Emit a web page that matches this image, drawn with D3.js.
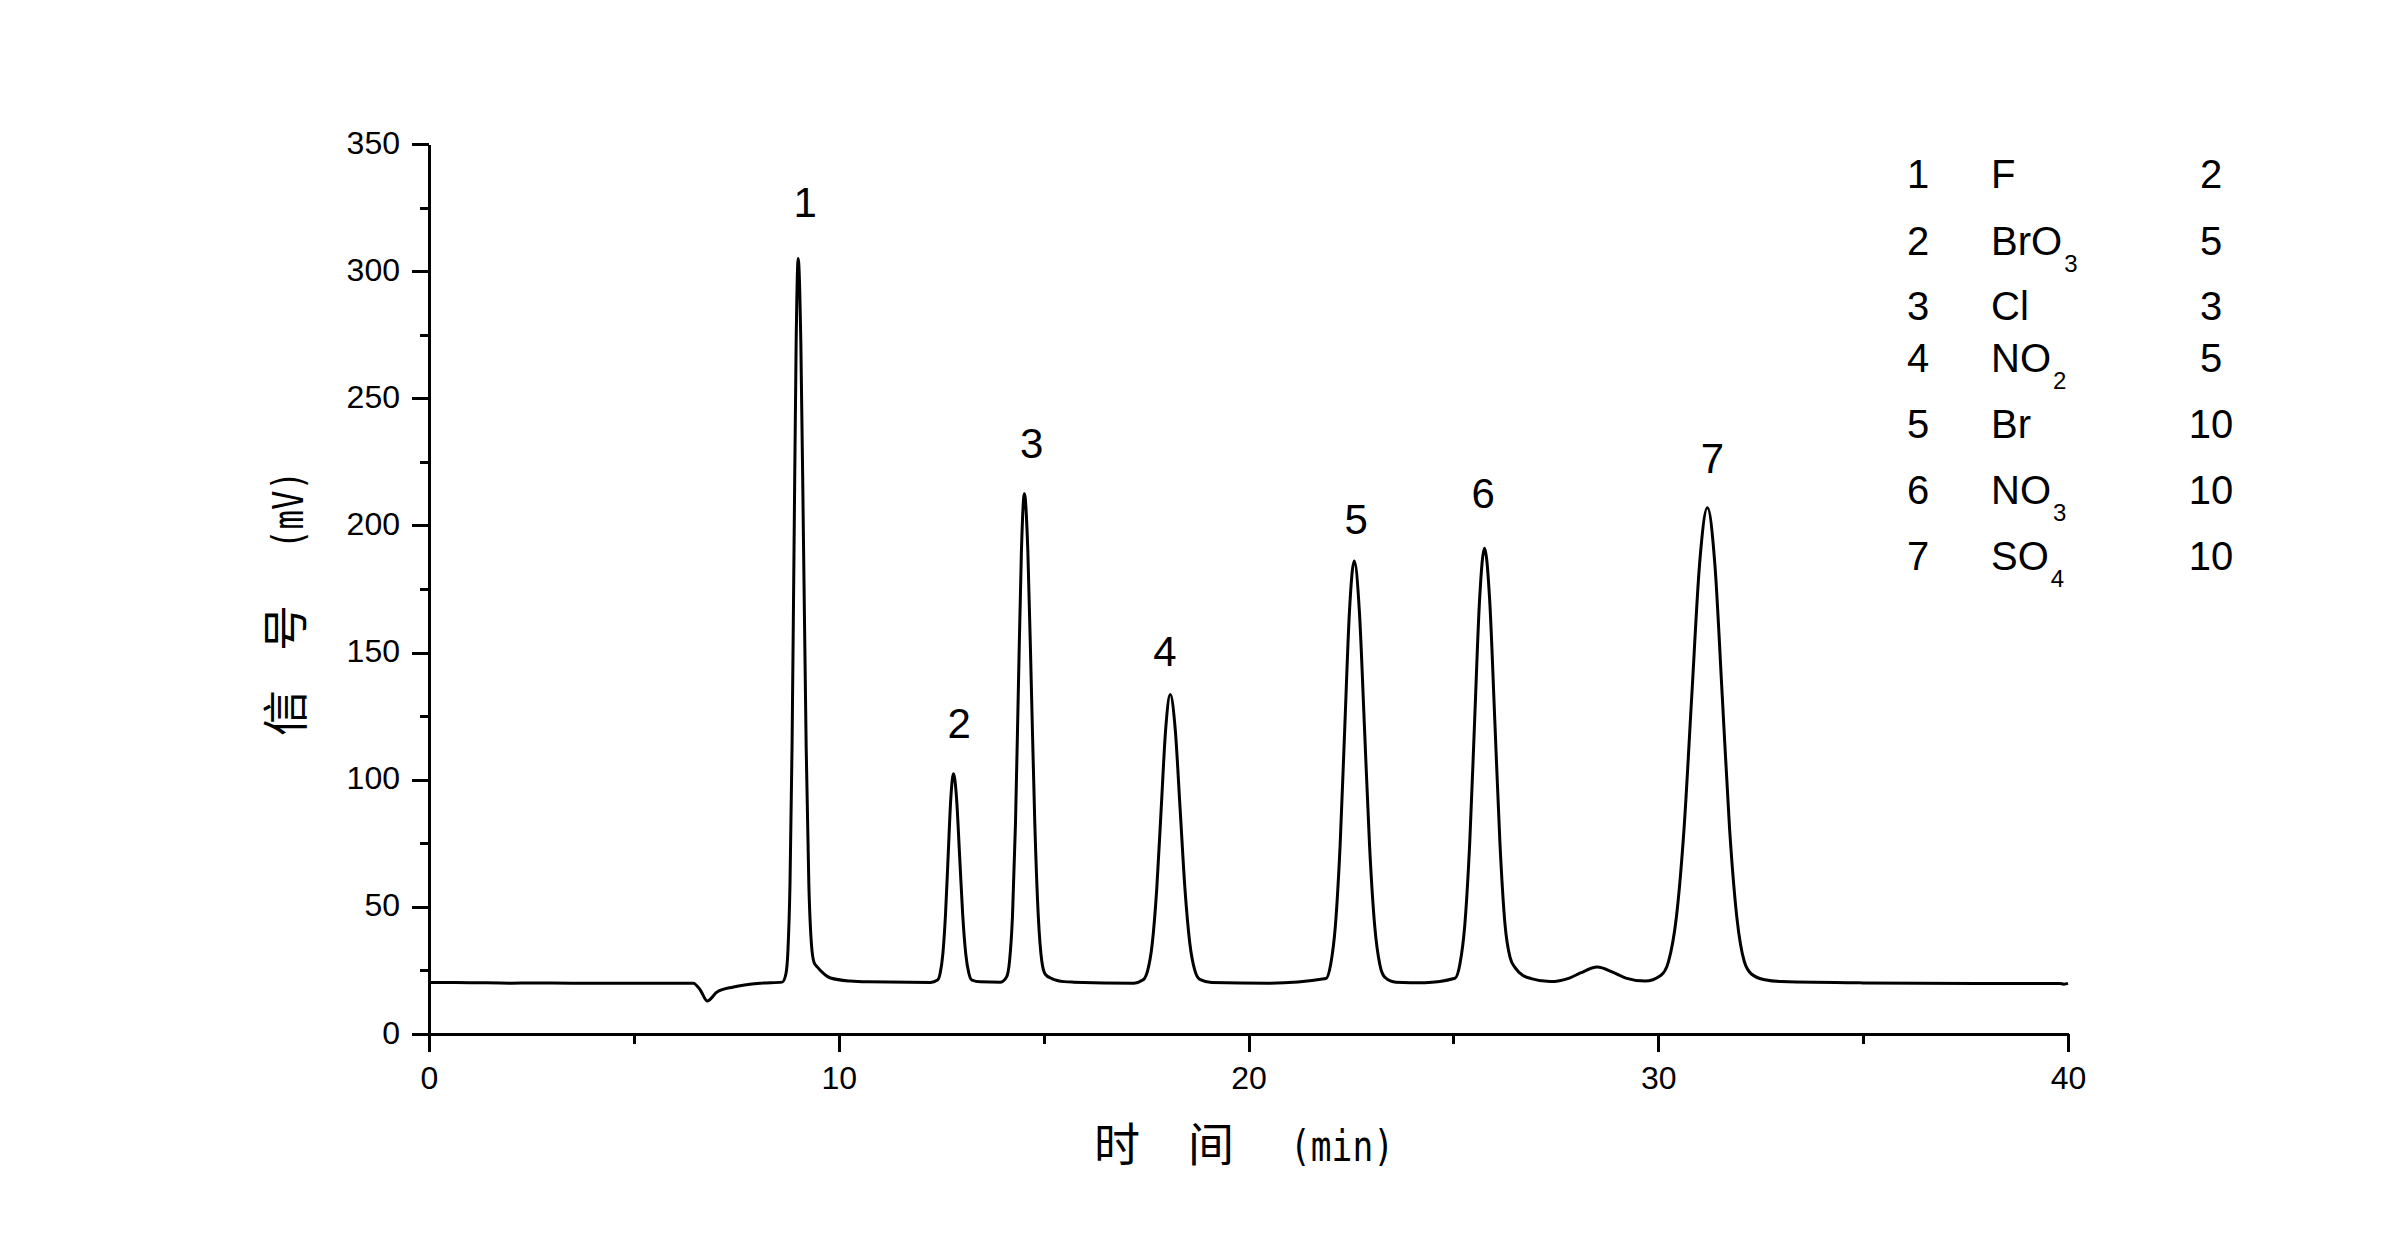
<!DOCTYPE html>
<html><head><meta charset="utf-8">
<script src="https://cdn.jsdelivr.net/npm/d3@7"></script>
<style>html,body{margin:0;padding:0;background:#fff}svg{display:block}</style>
</head><body>
<script>
// ---------- data ----------
const timeMin = [0,1.0,2.0,2.5,3.5,5.0,6.45,6.62,6.79,7.03,7.43,8.08,8.62,
  8.71,8.76,8.81,8.86,8.91,8.96,9.01,9.075,9.14,9.205,9.27,9.335,9.40,9.48,9.60,9.80,10.28,10.70,
  12.24,12.41,12.475,12.54,12.605,12.67,12.735,12.80,12.875,12.95,13.025,13.10,13.175,13.25,13.45,13.95,
  14.095,14.168,14.24,14.313,14.385,14.458,14.53,14.615,14.70,14.785,14.87,14.955,15.04,15.20,15.50,15.73,
  17.20,17.43,17.54,17.65,17.76,17.87,17.98,18.09,18.21,18.33,18.45,18.57,18.69,18.81,19.10,20.50,
  21.89,22.005,22.12,22.235,22.35,22.465,22.58,22.705,22.83,22.955,23.08,23.205,23.33,23.60,24.30,
  25.04,25.16,25.28,25.40,25.52,25.64,25.76,25.885,26.01,26.135,26.26,26.385,26.51,26.70,26.90,27.36,
  27.83,28.10,28.51,28.90,29.21,29.68,
  30.06,30.25,30.44,30.63,30.82,31.01,31.20,31.38,31.56,31.74,31.92,32.10,32.28,32.60,33.00,35.00,38.00,39.80,39.90,40.00];
const signalMv = [20.3,20.2,20.0,20.1,20.0,20.0,20.0,17.3,13.0,16.5,18.5,20.0,20.4,
  23.6,32.9,58.9,112.8,193.0,271.6,305.0,271.6,193.0,112.8,58.9,35.0,28.0,26.3,24.2,22.0,20.8,20.5,
  20.3,21.2,23.9,31.4,46.9,70.0,92.7,102.3,92.7,70.0,46.9,31.4,23.9,21.2,20.5,20.4,
  22.4,28.7,46.3,82.7,136.9,189.9,212.5,189.9,136.9,82.7,46.3,28.7,23.5,21.8,20.6,20.4,
  20.0,21.3,25.0,35.4,56.9,88.8,120.2,133.5,120.2,88.8,56.9,35.4,25.0,21.5,20.3,20.0,
  21.8,27.3,42.5,73.9,120.7,166.5,186.0,166.5,120.7,73.9,42.5,27.3,22.3,20.4,20.2,
  21.9,27.5,43.1,75.5,123.7,170.9,191.0,170.9,123.7,75.5,43.1,30.0,26.0,23.0,21.8,20.6,
  22.0,24.0,26.3,24.2,22.0,20.8,
  23.0,28.5,45.6,80.9,133.5,185.1,207.0,185.1,133.5,80.9,45.6,28.5,23.5,21.3,20.6,20.1,19.9,19.9,19.6,19.9];

const peakNumbers = ["1","2","3","4","5","6","7"];
const peakLabelTime = [9.18,12.94,14.71,17.96,22.63,25.73,31.32];
const peakLabelSignal = [321.3,116.4,226.5,144.7,196.6,206.8,220.6];

const legendIndex = ["1","2","3","4","5","6","7"];
const legendIon = ["F","BrO","Cl","NO","Br","NO","SO"];
const legendIonSub = ["","3","","2","","3","4"];
const legendConc = ["2","5","3","5","10","10","10"];

const xTicks = [0,10,20,30,40];
const xMinorTicks = [5,15,25,35];
const yTicks = [0,50,100,150,200,250,300,350];
const yMinorTicks = [25,75,125,175,225,275,325];

// ---------- layout ----------
const W = 2400, H = 1240;
const latin = "'Liberation Sans', Arial, sans-serif";
const cjk = "'Noto Sans CJK SC', sans-serif";
const mono = "'DejaVu Sans Mono', monospace";

const svg = d3.select("body").append("svg").attr("width", W).attr("height", H);
svg.append("rect").attr("width", W).attr("height", H).attr("fill", "#fff");

const x = d3.scaleLinear().domain([0, 40]).range([429, 2068]);
const y = d3.scaleLinear().domain([0, 350]).range([1034, 144]);

// minor ticks
const gxm = svg.append("g").attr("transform", `translate(0,${y(0)})`)
  .call(d3.axisBottom(x).tickValues(xMinorTicks).tickSize(10).tickFormat(""));
const gym = svg.append("g").attr("transform", `translate(${x(0)},0)`)
  .call(d3.axisLeft(y).tickValues(yMinorTicks).tickSize(9).tickFormat(""));
[gxm, gym].forEach(g => { g.select(".domain").remove(); });

// major axes
const gx = svg.append("g").attr("transform", `translate(0,${y(0)})`)
  .call(d3.axisBottom(x).tickValues(xTicks).tickSize(18).tickSizeOuter(0));
const gy = svg.append("g").attr("transform", `translate(${x(0)},0)`)
  .call(d3.axisLeft(y).tickValues(yTicks).tickSize(17).tickSizeOuter(0));

[gx, gy, gxm, gym].forEach(g => {
  g.selectAll("line").attr("stroke", "#000").attr("stroke-width", 3).attr("shape-rendering", "crispEdges");
  g.selectAll(".domain").attr("stroke", "#000").attr("stroke-width", 3).attr("shape-rendering", "crispEdges");
});
gx.selectAll("text").attr("font-family", latin).attr("font-size", 32).attr("fill", "#000")
  .attr("y", 55).attr("dy", 0);
gy.selectAll("text").attr("font-family", latin).attr("font-size", 32).attr("fill", "#000")
  .attr("x", -29).attr("dy", 9);
// extend x axis to the left under the y 0 tick
svg.append("line").attr("x1", x(0) - 17).attr("x2", x(0)).attr("y1", y(0)).attr("y2", y(0))
  .attr("stroke", "#000").attr("stroke-width", 3).attr("shape-rendering", "crispEdges");

// chromatogram
const pts = timeMin.map((t, i) => [t, signalMv[i]]);
const line = d3.line().x(d => x(d[0])).y(d => y(d[1])).curve(d3.curveMonotoneX);
svg.append("path").datum(pts).attr("d", line).attr("fill", "none")
  .attr("stroke", "#000").attr("stroke-width", 3).attr("stroke-linejoin", "round");

// peak numbers
svg.append("g").selectAll("text").data(peakNumbers).join("text")
  .attr("x", (d, i) => x(peakLabelTime[i])).attr("y", (d, i) => y(peakLabelSignal[i]))
  .attr("text-anchor", "middle").attr("font-family", latin).attr("font-size", 42).attr("fill", "#000")
  .text(d => d);

// legend
const legendBaselines = [188, 255, 320, 372, 438, 504, 570];
const lg = svg.append("g").attr("font-family", latin).attr("font-size", 40).attr("fill", "#000");
legendIndex.forEach((d, i) => {
  const yy = legendBaselines[i];
  lg.append("text").attr("x", 1907).attr("y", yy).text(d);
  const t = lg.append("text").attr("x", 1991).attr("y", yy);
  t.append("tspan").text(legendIon[i]);
  if (legendIonSub[i]) t.append("tspan").attr("font-size", 24).attr("dx", 2).attr("dy", 17).text(legendIonSub[i]);
  lg.append("text").attr("x", 2211).attr("y", yy).attr("text-anchor", "middle").text(legendConc[i]);
});

// x axis title
const xt = svg.append("g").attr("fill", "#000");
xt.append("text").attr("x", 1094).attr("y", 1161).attr("font-family", cjk).attr("font-size", 46).text("时");
xt.append("text").attr("x", 1188).attr("y", 1161).attr("font-family", cjk).attr("font-size", 46).text("间");
xt.append("text").attr("x", 1290).attr("y", 1161).attr("font-family", mono).attr("font-size", 42)
  .attr("textLength", 104).attr("lengthAdjust", "spacingAndGlyphs").text("(min)");

// y axis title (rotated)
const yt = svg.append("g").attr("fill", "#000");
yt.append("text").attr("transform", "translate(302,713) rotate(-90)").attr("text-anchor", "middle")
  .attr("font-family", cjk).attr("font-size", 46).text("信");
yt.append("text").attr("transform", "translate(302,628) rotate(-90)").attr("text-anchor", "middle")
  .attr("font-family", cjk).attr("font-size", 46).text("号");
yt.append("text").attr("transform", "translate(303,510) rotate(-90)").attr("text-anchor", "middle")
  .attr("font-family", mono).attr("font-size", 42)
  .attr("textLength", 78).attr("lengthAdjust", "spacingAndGlyphs").text("(mV)");
</script>
</body></html>
